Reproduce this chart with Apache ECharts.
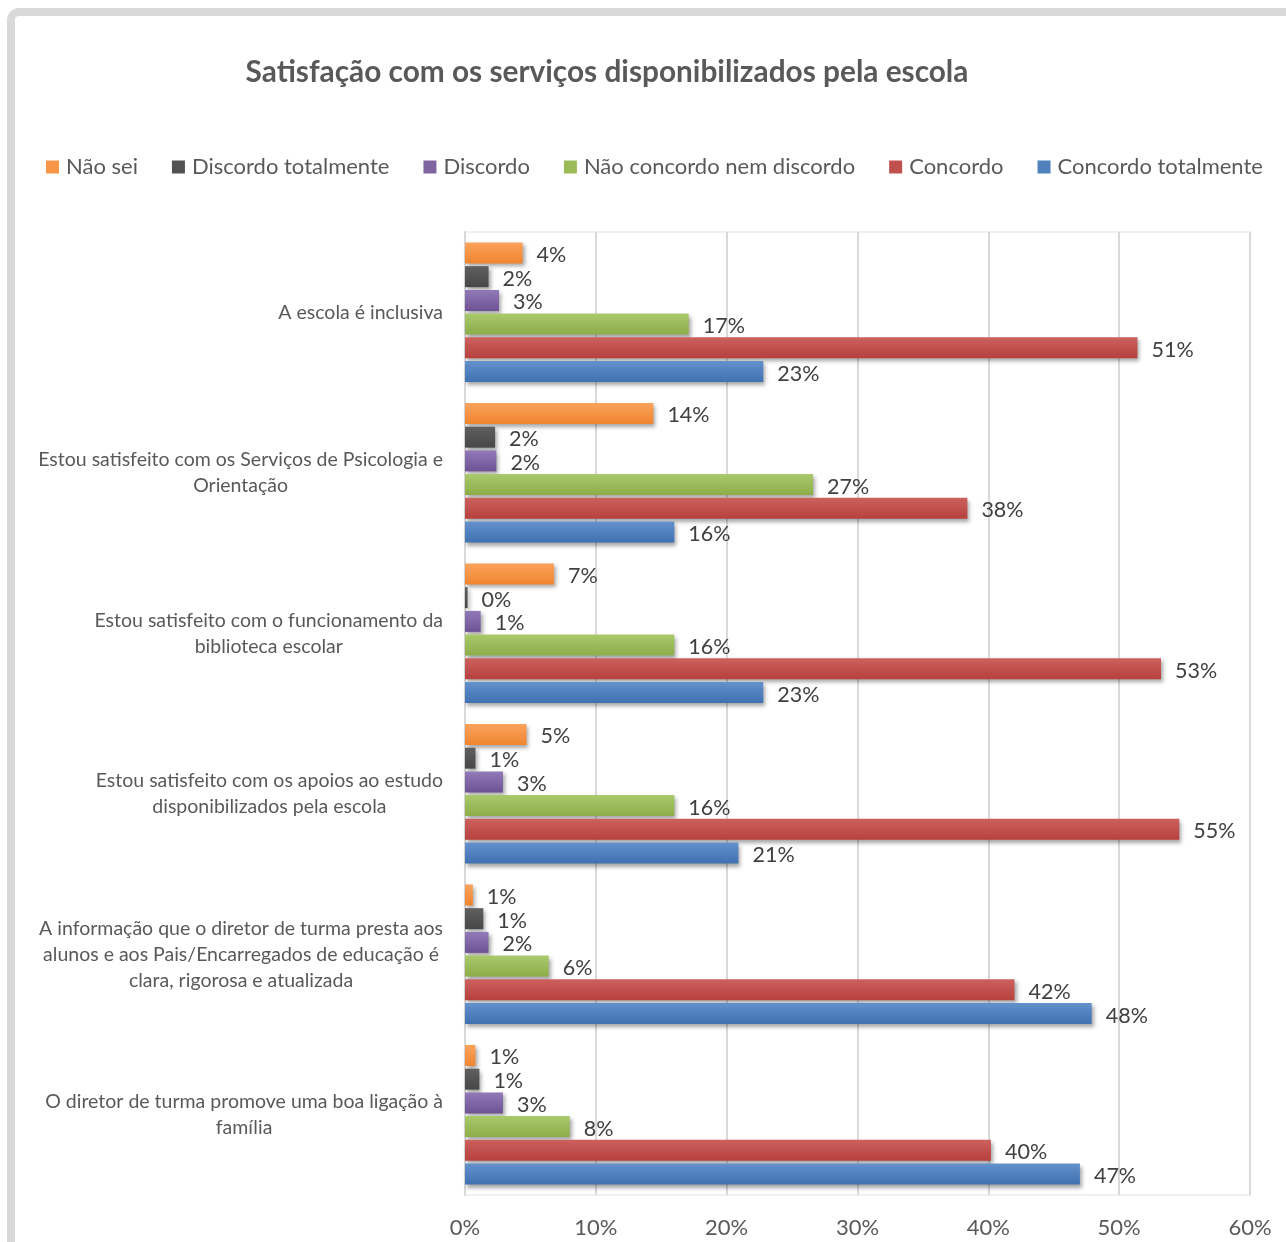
<!DOCTYPE html>
<html>
<head>
<meta charset="utf-8">
<script src="https://cdn.jsdelivr.net/npm/echarts@6/dist/echarts.min.js"></script>
<style>
html,body{margin:0;padding:0;background:#fff;}
#chart{width:1286px;height:1242px;}
</style>
</head>
<body>
<div id="chart"></div>
<script>
const titleText = 'Satisfação com os serviços disponibilizados pela escola';
const categories = [
  'A escola é inclusiva',
  'Estou satisfeito com os Serviços de Psicologia e\nOrientação',
  'Estou satisfeito com o funcionamento da\nbiblioteca escolar',
  'Estou satisfeito com os apoios ao estudo\ndisponibilizados pela escola',
  'A informação que o diretor de turma presta aos\nalunos e aos Pais/Encarregados de educação é\nclara, rigorosa e atualizada',
  'O diretor de turma promove uma boa ligação à\nfamília'
];
const seriesNames = ['Não sei', 'Discordo totalmente', 'Discordo', 'Não concordo nem discordo', 'Concordo', 'Concordo totalmente'];
const naoSei = [4.4, 14.4, 6.8, 4.7, 0.6, 0.8];
const discordoTotalmente = [1.8, 2.3, 0.2, 0.8, 1.4, 1.1];
const discordo = [2.6, 2.4, 1.2, 2.9, 1.8, 2.9];
const naoConcordoNemDiscordo = [17.1, 26.6, 16.0, 16.0, 6.4, 8.0];
const concordo = [51.4, 38.4, 53.2, 54.6, 42.0, 40.2];
const concordoTotalmente = [22.8, 16.0, 22.8, 20.9, 47.9, 47.0];
const xTicks = [0, 10, 20, 30, 40, 50, 60];

const seriesData = [naoSei, discordoTotalmente, discordo, naoConcordoNemDiscordo, concordo, concordoTotalmente];
const colorPairs = [
  ['#fba35c', '#ef8530'],
  ['#5f5f5f', '#474747'],
  ['#9279b7', '#6e5394'],
  ['#a9c96c', '#8cad48'],
  ['#cc615e', '#b6403d'],
  ['#6391cb', '#3f71b1']
];
const legendColors = ['#f79646', '#525252', '#8064a2', '#9bbb59', '#c0504d', '#4f81bd'];
const FONT = 'Lato';
const TXT = '#595959';

const chart = echarts.init(document.getElementById('chart'), null, {renderer: 'canvas'});

const series = seriesNames.map((name, i) => ({
  name: name,
  type: 'bar',
  data: seriesData[i],
  barGap: '13%',
  barCategoryGap: '13%',
  itemStyle: {
    color: new echarts.graphic.LinearGradient(0, 0, 0, 1, [
      {offset: 0, color: colorPairs[i][0]},
      {offset: 1, color: colorPairs[i][1]}
    ]),
    shadowBlur: 4,
    shadowOffsetX: 2,
    shadowOffsetY: 3,
    shadowColor: 'rgba(0,0,0,0.35)'
  },
  label: {
    show: true,
    position: 'right',
    distance: 14,
    offset: [0, 2],
    color: '#404040',
    fontFamily: FONT,
    fontSize: 21.5,
    formatter: p => Math.round(p.value) + '%'
  },
  emphasis: {disabled: true}
}));

chart.setOption({
  animation: false,
  color: legendColors,
  graphic: [{
    type: 'rect',
    shape: {x: 11, y: 12, width: 1400, height: 1400, r: 8},
    style: {fill: 'none', stroke: '#d9d9d9', lineWidth: 8},
    silent: true,
    z: -10
  }, {
    type: 'rect',
    shape: {x: 465, y: 232, width: 785, height: 963},
    style: {fill: 'none', stroke: '#f0f0f0', lineWidth: 2},
    silent: true,
    z: -5
  }],
  title: {
    text: titleText,
    left: 602,
    textAlign: 'center',
    top: 52,
    textStyle: {fontFamily: FONT, fontWeight: 'bold', fontSize: 29.8, color: TXT}
  },
  legend: {
    data: seriesNames.map((n, i) => ({name: n, itemStyle: {color: legendColors[i]}})),
    left: 41,
    top: 151,
    icon: 'rect',
    itemWidth: 13,
    itemHeight: 13,
    itemGap: 34,
    textStyle: {fontFamily: FONT, fontSize: 22, color: TXT, padding: [0, 0, 0, 2]}
  },
  grid: {left: 465, right: 36, top: 232, bottom: 47, containLabel: false},
  xAxis: {
    type: 'value',
    min: 0,
    max: 60,
    interval: 10,
    axisLine: {show: false},
    axisTick: {show: false},
    splitLine: {show: true, lineStyle: {color: '#d9d9d9', width: 2}},
    axisLabel: {
      fontFamily: FONT, fontSize: 22, color: TXT, margin: 22,
      formatter: v => xTicks.includes(v) ? v + '%' : ''
    }
  },
  yAxis: {
    type: 'category',
    data: categories,
    inverse: true,
    axisLine: {show: true, lineStyle: {color: '#d9d9d9', width: 2}},
    axisTick: {show: false},
    axisLabel: {
      margin: 22,
      formatter: v => v.split('\n').map(l => '{a|' + l + '}').join('\n'),
      rich: {a: {fontFamily: FONT, fontSize: 19.5, color: TXT, align: 'center', lineHeight: 26}}
    }
  },
  series: series
});
</script>
</body>
</html>
